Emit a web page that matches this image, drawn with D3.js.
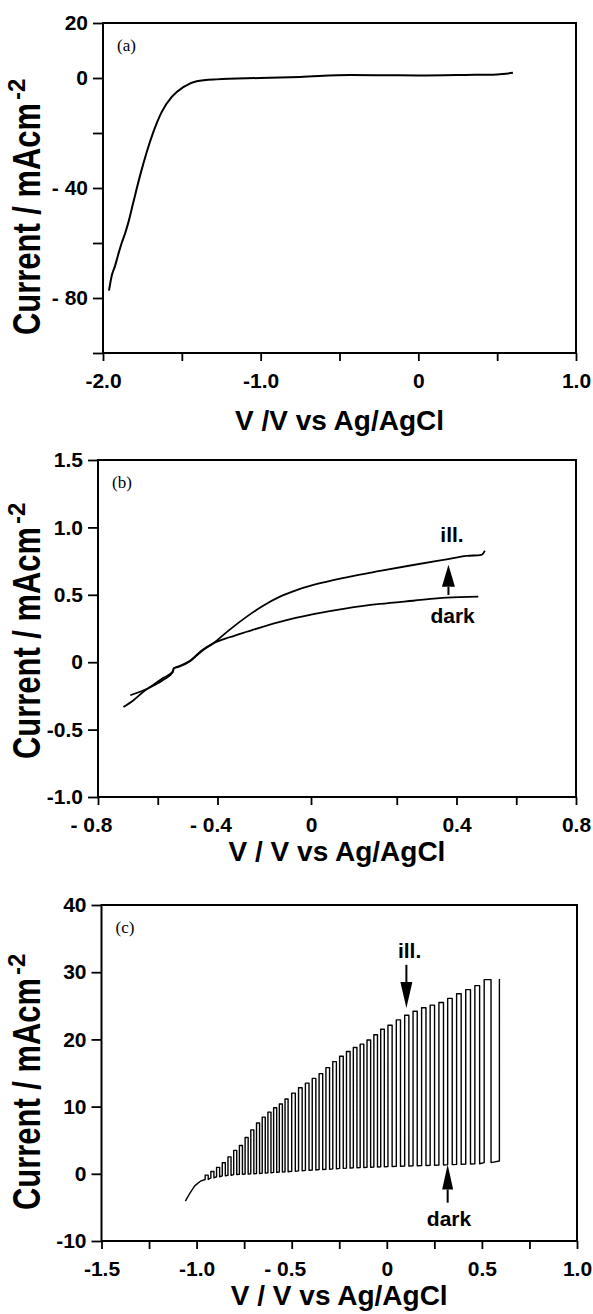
<!DOCTYPE html>
<html>
<head>
<meta charset="utf-8">
<script src="https://cdn.jsdelivr.net/npm/d3@7"></script>
<style>
body { margin: 0; background: #fff; }
text { font-family: "Liberation Sans", Arial, sans-serif; font-weight: bold; fill: #000; }
</style>
</head>
<body>
<svg id="chart" width="593" height="1314"></svg>
<script>

// ---- (a) single scan, V vs Ag/AgCl -> mA cm-2
let aVolt = [-1.962, -1.945, -1.924, -1.90, -1.881, -1.86, -1.839, -1.808, -1.765, -1.723, -1.681, -1.628,
    -1.564, -1.491, -1.406, -1.28, -1.005, -0.75, -0.434, -0.2, 0, 0.3, 0.5, 0.6];
let aCurr = [-77.3, -72, -68.4, -63.5, -59.9, -56.5, -52.5, -45.3, -35.5, -27.0, -19.7, -12.4,
    -6.9, -3.3, -1.2, -0.5, 0, 0.4, 1.1, 1.0, 0.9, 1.1, 1.3, 1.9];
let aXTicks = [-2, -1.5, -1, -0.5, 0, 0.5, 1];
let aXLabels = ["-2.0", "", "-1.0", "", "0", "", "1.0"];
let aYTicks = [-100, -80, -60, -40, -20, 0, 20];
let aYLabels = ["", "- 80", "", "- 40", "", "0", "20"];

// ---- (b) dark and illuminated scans
let bIllVolt = [-0.715, -0.68, -0.645, -0.61, -0.581, -0.55, -0.546, -0.53, -0.492, -0.454, -0.414, -0.36,
    -0.302, -0.25, -0.191, -0.135, -0.079, 0.032, 0.144, 0.255, 0.367, 0.434, 0.484, 0.495];
let bIllCurr = [-0.333, -0.28, -0.214, -0.16, -0.116, -0.07, -0.045, -0.035, 0.007, 0.08, 0.14, 0.24,
    0.338, 0.415, 0.486, 0.535, 0.573, 0.630, 0.677, 0.721, 0.763, 0.788, 0.797, 0.827];
let bDarkVolt = [-0.692, -0.632, -0.581, -0.55, -0.546, -0.53, -0.492, -0.454, -0.414, -0.36, -0.302,
    -0.191, -0.079, 0.032, 0.144, 0.255, 0.367, 0.473];
let bDarkCurr = [-0.245, -0.193, -0.13, -0.075, -0.045, -0.03, 0.01, 0.085, 0.140, 0.185, 0.226,
    0.300, 0.357, 0.400, 0.432, 0.456, 0.479, 0.486];
// the "0" tick of the original figure sits left of true zero
let bXTicks = [-0.8, -0.6, -0.4, -0.087, 0.2, 0.4, 0.6, 0.8];
let bXLabels = ["- 0.8", "", "- 0.4", "0", "", "0.4", "", "0.8"];
let bYTicks = [-1, -0.5, 0, 0.5, 1, 1.5];
let bYLabels = ["-1.0", "-0.5", "0", "0.5", "1.0", "1.5"];

// ---- (c) chopped illumination
let cLeadVolt = [-1.059, -1.039, -1.01, -0.98, -0.955];
let cLeadCurr = [-4.06, -3.07, -1.8, -1.1, -0.85];
let chopOn = [-0.955, -0.925, -0.895, -0.865, -0.835, -0.805, -0.775, -0.745, -0.715, -0.685, -0.655, -0.625, -0.595, -0.565, -0.535,
    -0.500, -0.464, -0.428, -0.392, -0.356, -0.320, -0.284, -0.248, -0.212, -0.176, -0.140, -0.104, -0.068, -0.032,
    0.006, 0.050, 0.094, 0.138, 0.183, 0.228, 0.274, 0.320, 0.367, 0.415, 0.463, 0.512, 0.592];
let chopOff = [-0.939, -0.909, -0.879, -0.849, -0.819, -0.789, -0.759, -0.729, -0.699, -0.669, -0.639, -0.609, -0.579, -0.549, -0.519,
    -0.481, -0.445, -0.409, -0.373, -0.337, -0.301, -0.265, -0.229, -0.193, -0.157, -0.121, -0.085, -0.049, -0.013,
    0.028, 0.072, 0.116, 0.160, 0.206, 0.251, 0.298, 0.344, 0.391, 0.440, 0.488, 0.548, 0.592];
let pulseTop = [-0.2, 0.35, 0.96, 1.65, 2.52, 3.48, 4.22, 5.41, 6.54, 7.55, 8.43, 9.18, 9.83, 10.38, 11.13,
    12.0, 12.8, 13.5, 14.2, 14.9, 15.8, 16.7, 17.5, 18.2, 18.8, 19.3, 19.9, 20.7, 21.5,
    22.1, 22.9, 23.6, 24.2, 24.7, 25.1, 25.5, 26.1, 26.8, 27.4, 28.0, 28.9, 29.0];
let pulseBase = [-0.85, -0.61, -0.44, -0.30, -0.21, -0.12, -0.07, -0.03, 0.01, 0.05, 0.10, 0.15, 0.21, 0.26, 0.31,
    0.38, 0.44, 0.51, 0.57, 0.63, 0.68, 0.74, 0.80, 0.84, 0.89, 0.93, 0.98, 1.02, 1.05,
    1.08, 1.12, 1.16, 1.20, 1.24, 1.28, 1.32, 1.37, 1.41, 1.45, 1.49, 1.67, 1.9];
let cXTicks = [-1.5, -1.25, -1, -0.75, -0.5, -0.25, 0, 0.25, 0.5, 0.75, 1];
let cXLabels = ["-1.5", "", "-1.0", "", "- 0.5", "", "0", "", "0.5", "", "1.0"];
let cYTicks = [-10, 0, 10, 20, 30, 40];
let cYLabels = ["-10", "0", "10", "20", "30", "40"];


let svg = d3.select("#chart");

let drawPanel = function(p){
    let x = d3.scaleLinear().domain(p.xDomain).range([p.left, p.right]);
    let y = d3.scaleLinear().domain(p.yDomain).range([p.bottom, p.top]);
    let g = svg.append("g");

    let xAxis = g.append("g")
        .attr("transform", `translate(0,${p.bottom})`)
        .call(d3.axisBottom(x).tickValues(p.xTicks).tickFormat((d, i) => p.xLabels[i])
            .tickSize(8).tickPadding(12.5));
    let yAxis = g.append("g")
        .attr("transform", `translate(${p.left},0)`)
        .call(d3.axisLeft(y).tickValues(p.yTicks).tickFormat((d, i) => p.yLabels[i])
            .tickSize(10).tickPadding(5));

    [xAxis, yAxis].forEach((a) => {
        a.select(".domain").remove();
        a.selectAll("line").attr("stroke", "#000").attr("stroke-width", 1.8);
        a.selectAll("text")
            .style("font-family", "'Liberation Sans', Arial, sans-serif")
            .style("font-weight", "bold")
            .style("font-size", "21px")
            .attr("fill", "#000");
    });
    // labels like "- 0.4" keep the digits on the tick
    xAxis.selectAll("text").attr("dx", (d, i) => p.xLabels[i].startsWith("- ") ? -7 : 0);

    g.append("rect")
        .attr("x", p.left).attr("y", p.top)
        .attr("width", p.right - p.left).attr("height", p.bottom - p.top)
        .attr("fill", "none").attr("stroke", "#000").attr("stroke-width", 2);

    // y title, rotated, with superscript
    let yt = g.append("g").attr("transform", `translate(40,${p.yTitleStart}) rotate(-90)`);
    yt.append("text").attr("x", 0).attr("y", 0)
        .attr("textLength", 232).attr("lengthAdjust", "spacingAndGlyphs")
        .style("font-size", "38px").text("Current / mAcm");
    yt.append("text").attr("x", 235).attr("y", -15)
        .style("font-size", "24px").text("-2");

    g.append("text")
        .attr("x", (p.left + p.right) / 2).attr("y", p.xTitleY)
        .attr("text-anchor", "middle")
        .style("font-size", "28px")
        .text(p.xTitle);

    g.append("text")
        .attr("x", p.left + 14).attr("y", p.top + 28)
        .style("font-family", "'Liberation Serif', 'Times New Roman', serif")
        .style("font-weight", "normal")
        .style("font-size", "17px")
        .text(p.tag);

    return {g: g, x: x, y: y};
};

let drawArrow = function(panel, v, from, to, headLen, headW){
    let px = panel.x(v), y0 = panel.y(from), y1 = panel.y(to);
    let dir = y1 > y0 ? 1 : -1;
    let yb = y1 - dir * headLen;
    panel.g.append("line")
        .attr("x1", px).attr("x2", px).attr("y1", y0).attr("y2", yb)
        .attr("stroke", "#000").attr("stroke-width", 2);
    panel.g.append("path")
        .attr("d", `M${px - headW / 2},${yb}L${px + headW / 2},${yb}L${px},${y1}Z`)
        .attr("fill", "#000");
};

let drawLabel = function(panel, v, c, txt){
    panel.g.append("text")
        .attr("x", panel.x(v)).attr("y", panel.y(c))
        .attr("text-anchor", "middle")
        .style("font-size", "21px")
        .text(txt);
};

let zip = (xs, ys) => xs.map((d, i) => [d, ys[i]]);


// ---- panel (a)
let pa = drawPanel({
    left: 103, right: 576, top: 23, bottom: 353,
    xDomain: [-2, 1], yDomain: [-100, 20],
    xTicks: aXTicks, xLabels: aXLabels, yTicks: aYTicks, yLabels: aYLabels,
    yTitleStart: 335, xTitleY: 430, xTitle: "V /V vs Ag/AgCl", tag: "(a)"
});
let lineA = d3.line().x(d => pa.x(d[0])).y(d => pa.y(d[1])).curve(d3.curveMonotoneX);
pa.g.append("path").datum(zip(aVolt, aCurr))
    .attr("d", lineA).attr("fill", "none").attr("stroke", "#000").attr("stroke-width", 2);


// ---- panel (b)
let pb = drawPanel({
    left: 98, right: 576, top: 460, bottom: 797,
    xDomain: [-0.8, 0.8], yDomain: [-1, 1.5],
    xTicks: bXTicks, xLabels: bXLabels, yTicks: bYTicks, yLabels: bYLabels,
    yTitleStart: 759, xTitleY: 861, xTitle: "V / V vs Ag/AgCl", tag: "(b)"
});
let lineB = d3.line().x(d => pb.x(d[0])).y(d => pb.y(d[1])).curve(d3.curveMonotoneX);
[zip(bIllVolt, bIllCurr), zip(bDarkVolt, bDarkCurr)].forEach((s) => {
    pb.g.append("path").datum(s)
        .attr("d", lineB).attr("fill", "none").attr("stroke", "#000").attr("stroke-width", 1.8);
});
drawArrow(pb, 0.373, 0.499, 0.722, 22, 13);
drawLabel(pb, 0.385, 0.892, "ill.");
drawLabel(pb, 0.387, 0.292, "dark");


// ---- panel (c)
let pc = drawPanel({
    left: 101.5, right: 577, top: 905, bottom: 1241,
    xDomain: [-1.5, 1], yDomain: [-10, 40],
    xTicks: cXTicks, xLabels: cXLabels, yTicks: cYTicks, yLabels: cYLabels,
    yTitleStart: 1210, xTitleY: 1305, xTitle: "V / V vs Ag/AgCl", tag: "(c)"
});

let cPts = zip(cLeadVolt, cLeadCurr);
chopOn.forEach((on, i) => {
    cPts.push([on, pulseBase[i]], [on, pulseTop[i]]);
    if(i < chopOn.length - 1)
        cPts.push([chopOff[i], pulseTop[i]], [chopOff[i], pulseBase[i]]);
});
let lineC = d3.line().x(d => pc.x(d[0])).y(d => pc.y(d[1]));
pc.g.append("path").datum(cPts)
    .attr("d", lineC).attr("fill", "none").attr("stroke", "#000")
    .attr("stroke-width", 1.4).attr("stroke-linejoin", "round");

drawArrow(pc, 0.103, 31.1, 24.66, 26, 12);
drawLabel(pc, 0.12, 32.1, "ill.");
drawArrow(pc, 0.32, -4.3, 1.38, 25, 11);
drawLabel(pc, 0.327, -7.8, "dark");

</script>
</body>
</html>
